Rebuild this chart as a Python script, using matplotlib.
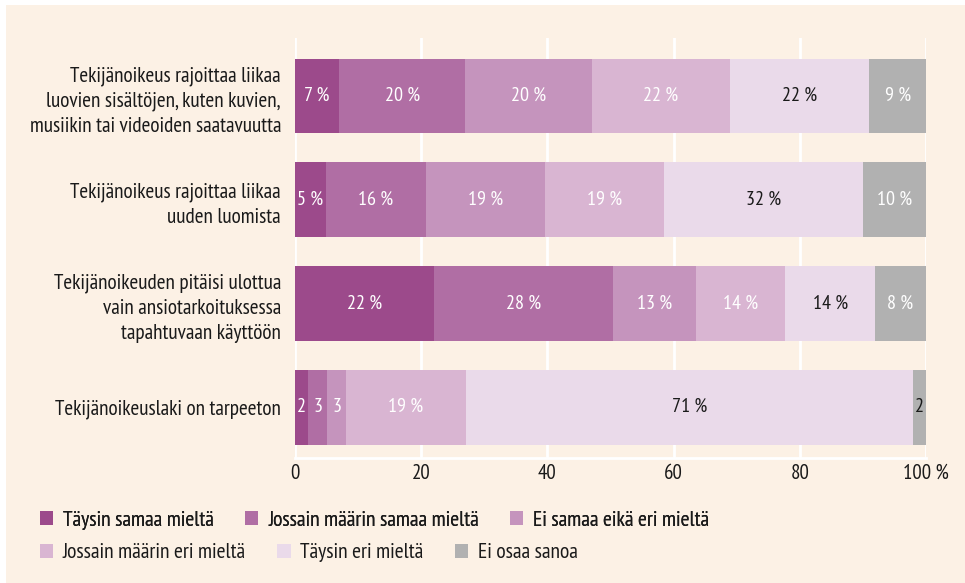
import matplotlib
matplotlib.use('Agg')
import matplotlib.pyplot as plt
from matplotlib.patches import Patch, Rectangle

plt.rcParams['font.family'] = ['PT Sans Narrow', 'Liberation Sans Narrow', 'DejaVu Sans']

# väittämät (ylhäältä alas)
statements = [
    'Tekijänoikeus rajoittaa liikaa\nluovien sisältöjen, kuten kuvien,\nmusiikin tai videoiden saatavuutta',
    'Tekijänoikeus rajoittaa liikaa\nuuden luomista',
    'Tekijänoikeuden pitäisi ulottua\nvain ansiotarkoituksessa\ntapahtuvaan käyttöön',
    'Tekijänoikeuslaki on tarpeeton',
]
categories = ['Täysin samaa mieltä', 'Jossain määrin samaa mieltä', 'Ei samaa eikä eri mieltä',
              'Jossain määrin eri mieltä', 'Täysin eri mieltä', 'Ei osaa sanoa']

# palkkien pituudet kuvasta luettuna (%)
row1 = [7.0, 20.0, 20.0, 22.0, 22.0, 9.0]
row2 = [4.9, 15.8, 18.9, 18.9, 31.5, 10.0]
row3 = [22.1, 28.3, 13.1, 14.2, 14.2, 8.1]
row4 = [2.1, 3.0, 3.0, 19.0, 70.8, 2.1]
values = [row1, row2, row3, row4]

# palkkien tekstit
labels1 = ['7 %', '20 %', '20 %', '22 %', '22 %', '9 %']
labels2 = ['5 %', '16 %', '19 %', '19 %', '32 %', '10 %']
labels3 = ['22 %', '28 %', '13 %', '14 %', '14 %', '8 %']
labels4 = ['2', '3', '3', '19 %', '71 %', '2']
bar_labels = [labels1, labels2, labels3, labels4]

xticks = [0, 20, 40, 60, 80, 100]
xticklabels = ['0', '20', '40', '60', '80', '100 %']

colors = ['#9c4a8b', '#b06ea4', '#c594bd', '#d9b5d2', '#eadaea', '#b1b1b1']
bg = '#fcf1e5'
dark = '#1a1a1a'

fig = plt.figure(figsize=(9.65, 5.83), dpi=100)
fig.patch.set_facecolor('white')
# vaalea taustalaatikko
fig.patches.append(Rectangle((6 / 965, 0), 1, 1 - 5 / 583, transform=fig.transFigure,
                             facecolor=bg, edgecolor='none', zorder=-10))

ax = fig.add_axes([295 / 965, 125 / 583, 631 / 965, 420 / 583])
ax.set_zorder(1)
ax.set_facecolor(bg)

for i, (vals, labs) in enumerate(zip(values, bar_labels)):
    left = 0
    for j, (v, lab) in enumerate(zip(vals, labs)):
        ax.barh(i, v, left=left, height=0.72, color=colors[j], edgecolor='none', zorder=3)
        txt_col = dark if j == 4 else 'white'
        if i == 3 and j == 5:
            txt_col = dark
        ax.text(left + v / 2, i, lab, ha='center', va='center', color=txt_col,
                fontsize=14.5, zorder=4)
        left += v

ax.set_xlim(0, 100)
ax.set_ylim(3.49, -0.56)
ax.set_xticks(xticks)
ax.set_xticklabels(xticklabels, fontsize=15, color=dark)
ax.set_yticks(range(len(statements)))
ax.set_yticklabels(statements, fontsize=15.3, color=dark, linespacing=1.38)
ax.tick_params(axis='x', length=0, pad=4)
ax.tick_params(axis='y', length=0, pad=10)
ax.grid(axis='x', color='white', linewidth=2, zorder=1)
for s in ['top', 'right', 'left']:
    ax.spines[s].set_visible(False)
ax.spines['bottom'].set_color('white')
ax.spines['bottom'].set_linewidth(2)

handles = [Patch(facecolor=c, edgecolor='none') for c in colors]
leg_kw = dict(loc='center left', ncol=3, frameon=False, fontsize=15.5, handlelength=0.62,
              handleheight=0.62, handletextpad=0.45, columnspacing=1.45, borderaxespad=0, borderpad=0)
leg1 = fig.legend(handles[:3], categories[:3], bbox_to_anchor=(40 / 965, 1 - 520 / 583), **leg_kw)
for t in leg1.get_texts():
    t.set_color(dark)
fig.add_artist(leg1)
leg2 = fig.legend(handles[3:], categories[3:], bbox_to_anchor=(40 / 965, 1 - 553 / 583), **leg_kw)
for t in leg2.get_texts():
    t.set_color(dark)

fig.savefig('out.png', dpi=100, facecolor=fig.get_facecolor())
